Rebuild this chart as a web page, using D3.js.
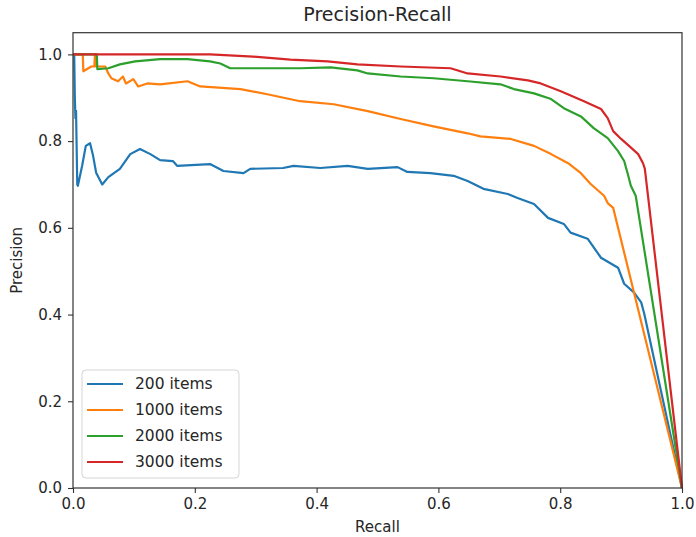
<!DOCTYPE html>
<html>
<head>
<meta charset="utf-8">
<script src="https://cdn.jsdelivr.net/npm/d3@7"></script>
<style>
  body { margin: 0; background: #fff; }
  text { font-family: "DejaVu Sans", sans-serif; fill: #262626; }
</style>
</head>
<body>
<div id="chart"></div>
<script>
// Values
var seriesNames = ["200 items", "1000 items", "2000 items", "3000 items"];
var seriesColors = ["#1f77b4", "#ff7f0e", "#2ca02c", "#d62728"];

var recall200 = [0, 0.002, 0.003, 0.004, 0.005, 0.007, 0.008, 0.015, 0.021, 0.028, 0.033, 0.038, 0.048, 0.058, 0.077, 0.094, 0.110, 0.127, 0.143, 0.164, 0.171, 0.225, 0.247, 0.280, 0.291, 0.345, 0.362, 0.406, 0.451, 0.484, 0.533, 0.549, 0.587, 0.625, 0.648, 0.674, 0.714, 0.730, 0.757, 0.780, 0.806, 0.817, 0.845, 0.867, 0.895, 0.905, 0.921, 0.933, 0.938, 1.0];
var precision200 = [1.0, 1.0, 0.90, 0.853, 0.87, 0.70, 0.697, 0.743, 0.789, 0.795, 0.766, 0.727, 0.70, 0.717, 0.736, 0.77, 0.782, 0.77, 0.756, 0.754, 0.743, 0.747, 0.731, 0.726, 0.736, 0.738, 0.743, 0.738, 0.743, 0.736, 0.740, 0.729, 0.726, 0.720, 0.708, 0.690, 0.678, 0.669, 0.655, 0.623, 0.609, 0.589, 0.575, 0.531, 0.508, 0.471, 0.451, 0.428, 0.402, 0.0];

var recall1000 = [0, 0.016, 0.017, 0.030, 0.035, 0.036, 0.038, 0.053, 0.058, 0.063, 0.074, 0.082, 0.087, 0.099, 0.107, 0.122, 0.143, 0.188, 0.209, 0.275, 0.319, 0.373, 0.428, 0.484, 0.538, 0.592, 0.648, 0.669, 0.719, 0.757, 0.785, 0.813, 0.834, 0.850, 0.872, 0.878, 0.887, 1.0];
var precision1000 = [1.0, 1.0, 0.961, 0.972, 0.972, 1.0, 0.972, 0.972, 0.956, 0.945, 0.938, 0.949, 0.933, 0.943, 0.926, 0.933, 0.931, 0.938, 0.926, 0.920, 0.908, 0.892, 0.885, 0.869, 0.851, 0.834, 0.818, 0.811, 0.805, 0.789, 0.770, 0.749, 0.726, 0.701, 0.674, 0.657, 0.646, 0.0];

var recall2000 = [0, 0.039, 0.040, 0.058, 0.077, 0.102, 0.143, 0.188, 0.225, 0.242, 0.258, 0.373, 0.423, 0.467, 0.484, 0.538, 0.592, 0.648, 0.702, 0.724, 0.757, 0.785, 0.806, 0.834, 0.855, 0.878, 0.895, 0.905, 0.911, 0.916, 0.924, 1.0];
var precision2000 = [1.0, 1.0, 0.966, 0.968, 0.977, 0.984, 0.989, 0.989, 0.984, 0.979, 0.968, 0.968, 0.970, 0.963, 0.956, 0.949, 0.945, 0.938, 0.931, 0.920, 0.910, 0.897, 0.876, 0.857, 0.830, 0.807, 0.777, 0.754, 0.724, 0.697, 0.674, 0.0];

var recall3000 = [0, 0.225, 0.296, 0.357, 0.418, 0.467, 0.538, 0.620, 0.648, 0.702, 0.747, 0.768, 0.801, 0.839, 0.867, 0.878, 0.887, 0.900, 0.913, 0.928, 0.936, 0.939, 1.0];
var precision3000 = [1.0, 1.0, 0.995, 0.988, 0.984, 0.977, 0.972, 0.968, 0.956, 0.949, 0.940, 0.933, 0.915, 0.892, 0.874, 0.853, 0.823, 0.805, 0.789, 0.770, 0.749, 0.736, 0.0];

var tickValues = [0, 0.2, 0.4, 0.6, 0.8, 1.0];

var svgWidth = 696;
var svgHeight = 537;
var margin = { top: 32.7, right: 14, bottom: 49, left: 73 };
var width = 609;
var height = 455.3;

var svg = d3.select("#chart")
  .append("svg")
  .attr("width", svgWidth)
  .attr("height", svgHeight);

var chartGroup = svg.append("g")
  .attr("transform", `translate(${margin.left}, ${margin.top})`);

var xScale = d3.scaleLinear().domain([0, 1]).range([0, width]);
var yScale = d3.scaleLinear().domain([0, 1.05]).range([height, 0]);

// build series from the arrays
var allRecall = [recall200, recall1000, recall2000, recall3000];
var allPrecision = [precision200, precision1000, precision2000, precision3000];
var series = seriesNames.map(function(name, i) {
  return {
    name: name,
    color: seriesColors[i],
    points: allRecall[i].map(function(r, j) { return [r, allPrecision[i][j]]; })
  };
});

var line = d3.line()
  .x(d => xScale(d[0]))
  .y(d => yScale(d[1]));

chartGroup.append("defs").append("clipPath")
  .attr("id", "plotClip")
  .append("rect")
  .attr("x", -2).attr("y", -2)
  .attr("width", width + 4).attr("height", height + 4);

chartGroup.append("g")
  .attr("clip-path", "url(#plotClip)")
  .selectAll("path")
  .data(series)
  .enter()
  .append("path")
  .attr("d", d => line(d.points))
  .attr("fill", "none")
  .attr("stroke", d => d.color)
  .attr("stroke-width", 2.2)
  .attr("stroke-linejoin", "round");

// Axes
var bottomAxis = d3.axisBottom(xScale)
  .tickValues(tickValues)
  .tickFormat(d3.format(".1f"))
  .tickSize(5)
  .tickPadding(5);
var leftAxis = d3.axisLeft(yScale)
  .tickValues(tickValues)
  .tickFormat(d3.format(".1f"))
  .tickSize(5)
  .tickPadding(6);

var xAxis = chartGroup.append("g")
  .attr("transform", `translate(0, ${height})`)
  .call(bottomAxis);
var yAxis = chartGroup.append("g")
  .call(leftAxis);

[xAxis, yAxis].forEach(function(ax) {
  ax.select(".domain").remove();
  ax.selectAll("line").attr("stroke", "#333").attr("stroke-width", 1.1);
  ax.selectAll("text")
    .attr("font-size", "15px")
    .attr("font-family", "DejaVu Sans")
    .attr("fill", "#262626");
});

// frame
chartGroup.append("rect")
  .attr("width", width)
  .attr("height", height)
  .attr("fill", "none")
  .attr("stroke", "#333")
  .attr("stroke-width", 1.2);

// Title and axis labels
svg.append("text")
  .attr("x", margin.left + width / 2)
  .attr("y", 21)
  .attr("text-anchor", "middle")
  .attr("font-size", "19px")
  .text("Precision-Recall");

svg.append("text")
  .attr("x", margin.left + width / 2)
  .attr("y", 532)
  .attr("text-anchor", "middle")
  .attr("font-size", "15px")
  .text("Recall");

svg.append("text")
  .attr("transform", `translate(22, ${margin.top + height / 2}) rotate(-90)`)
  .attr("text-anchor", "middle")
  .attr("font-size", "15px")
  .text("Precision");

// Legend
var legend = svg.append("g")
  .attr("transform", "translate(82, 370)");

legend.append("rect")
  .attr("width", 157)
  .attr("height", 108)
  .attr("rx", 4)
  .attr("fill", "#fff")
  .attr("fill-opacity", 0.8)
  .attr("stroke", "#d5d5d5")
  .attr("stroke-width", 1);

var legendRows = legend.selectAll(".legendRow")
  .data(series)
  .enter()
  .append("g")
  .attr("class", "legendRow")
  .attr("transform", (d, i) => `translate(0, ${14 + i * 26})`);

legendRows.append("line")
  .attr("x1", 5).attr("x2", 41)
  .attr("y1", 0).attr("y2", 0)
  .attr("stroke", d => d.color)
  .attr("stroke-width", 2.2);

legendRows.append("text")
  .attr("x", 53)
  .attr("y", 0)
  .attr("dy", "0.35em")
  .attr("font-size", "15.5px")
  .text(d => d.name);
</script>
</body>
</html>
